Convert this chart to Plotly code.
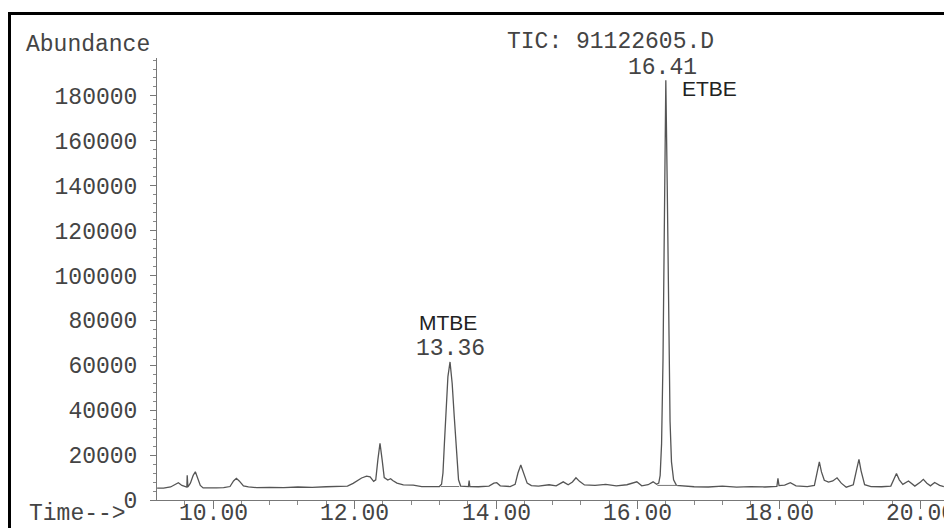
import plotly.graph_objects as go

# ---- data ----
time_min = [
    9.21, 9.30, 9.40, 9.46, 9.51, 9.56, 9.60, 9.63, 9.635, 9.645, 9.68, 9.72, 9.75, 9.78, 9.82, 9.86,
    9.95, 10.05, 10.15, 10.24, 10.29, 10.33, 10.37, 10.43, 10.50, 10.62, 10.80, 11.00, 11.20, 11.40,
    11.60, 11.80, 11.90, 11.98, 12.04, 12.10, 12.17, 12.22, 12.27, 12.30, 12.33, 12.36, 12.39, 12.42,
    12.47, 12.51, 12.54, 12.60, 12.69, 12.83, 12.95, 13.10, 13.20, 13.23, 13.25, 13.27, 13.29, 13.32,
    13.35, 13.38, 13.41, 13.44, 13.47, 13.50, 13.56, 13.61, 13.62, 13.63, 13.75, 13.90, 13.97, 14.01,
    14.06, 14.20, 14.27, 14.31, 14.35, 14.39, 14.44, 14.50, 14.60, 14.75, 14.85, 14.95, 15.02, 15.08,
    15.13, 15.18, 15.25, 15.40, 15.55, 15.70, 15.85, 15.99, 16.06, 16.15, 16.22, 16.27, 16.30, 16.32,
    16.34, 16.36, 16.38, 16.40, 16.42, 16.44, 16.46, 16.48, 16.51, 16.55, 16.65, 16.80, 17.00, 17.20,
    17.40, 17.60, 17.80, 17.97, 17.985, 18.00, 18.08, 18.16, 18.24, 18.40, 18.50, 18.54, 18.57, 18.60,
    18.64, 18.70, 18.76, 18.82, 18.88, 18.95, 19.05, 19.10, 19.13, 19.16, 19.21, 19.30, 19.45, 19.58,
    19.63, 19.66, 19.70, 19.75, 19.83, 19.92, 20.00, 20.04, 20.09, 20.14, 20.20, 20.27, 20.33,
]
abundance = [
    5300, 5300, 5800, 7000, 7700, 6500, 5900, 5700, 11000, 5800, 7500, 11000, 12600, 10000, 6500, 5400,
    5300, 5400, 5500, 6000, 8500, 9650, 8500, 6300, 5800, 5500, 5600, 5500, 5800, 5600,
    5900, 5900, 6200, 7400, 8800, 9800, 10600, 10300, 8300, 9000, 18000, 25300, 18000, 10000,
    8900, 9500, 8700, 7500, 6700, 6600, 6000, 6000, 6000, 7000, 12000, 25000, 40000, 55000,
    61500, 52000, 37000, 20000, 9000, 6200, 6000, 6000, 8700, 6000, 5900, 6200, 7500, 7700,
    6300, 6000, 7000, 12000, 15600, 12000, 7500, 6400, 6200, 6800, 6300, 8100, 6800, 8000,
    9900, 8300, 6700, 6500, 7000, 6300, 6800, 8100, 6300, 6800, 8100, 7000, 7500, 11000,
    25000, 62000, 130000, 187000, 140000, 75000, 35000, 17000, 9000, 6500, 6200, 5900, 5800, 6200,
    5700, 6000, 5800, 6100, 9600, 6400, 6600, 7700, 6300, 6000, 6500, 12000, 17000, 12500,
    8800, 8000, 8500, 9900, 7500, 5700, 6800, 14000, 18100, 13000, 6800, 6000, 5900, 6200,
    10000, 11800, 9000, 7000, 8500, 6200, 8000, 9200, 7500, 6300, 7800, 6500, 6000,
]
# integration baselines drawn under the two labelled peaks
base_time = [13.22, 13.48, None, 16.28, 16.57]
base_level = [6000, 6000, None, 6500, 6500]

y_ticks = [0, 20000, 40000, 60000, 80000, 100000, 120000, 140000, 160000, 180000]
x_ticks = [10, 12, 14, 16, 18, 20]
x_tick_labels = ["10.00", "12.00", "14.00", "16.00", "18.00", "20.00"]
peak_labels = {"MTBE": "13.36", "ETBE": "16.41"}
title_text = "TIC: 91122605.D"
x_range = [9.208, 20.332]

# ---- layout geometry (pixels) ----
W, H = 944, 528
L, R, T, B = 157, 944, 58, 500


def xp(px):
    return (px - L) / (R - L)


def yp(py):
    return (B - py) / (B - T)


MONO = "Liberation Mono"
SANS = "Liberation Sans"
TXT = "#444444"
MS = 23

fig = go.Figure()
fig.add_trace(go.Scatter(x=time_min, y=abundance, mode="lines",
                         line=dict(color="#555555", width=1.3), hoverinfo="skip"))
fig.add_trace(go.Scatter(x=base_time, y=base_level, mode="lines",
                         line=dict(color="#777777", width=1), hoverinfo="skip"))

mono = dict(family=MONO, size=MS, color=TXT)
annos = [
    dict(text="Abundance", x=xp(24), y=yp(45), xanchor="left", font=mono),
    dict(text="Time-->", x=xp(27), y=yp(514), xanchor="left", font=mono),
    dict(text=title_text, x=xp(610), y=yp(42), xanchor="center", font=mono),
    dict(text=peak_labels["ETBE"], x=xp(662), y=yp(68), xanchor="center", font=mono),
    dict(text="ETBE", x=xp(680), y=yp(88), xanchor="left", font=dict(family=SANS, size=21, color="#222222")),
    dict(text="MTBE", x=xp(448), y=yp(322), xanchor="center", font=dict(family=SANS, size=21, color="#222222")),
    dict(text=peak_labels["MTBE"], x=xp(450), y=yp(349), xanchor="center", font=mono),
]
for a in annos:
    a.update(xref="paper", yref="paper", yanchor="middle", showarrow=False)
# x tick labels, placed at the axis values
for tv, tl in zip(x_ticks, x_tick_labels):
    annos.append(dict(text=tl, x=tv, xref="x", y=yp(514), yref="paper", xanchor="center",
                      yanchor="middle", showarrow=False, font=mono))

fig.update_layout(
    width=W, height=H, autosize=False,
    margin=dict(l=L, r=W - R, t=T, b=H - B, pad=0, autoexpand=False),
    paper_bgcolor="white", plot_bgcolor="white",
    showlegend=False,
    annotations=annos,
    shapes=[dict(type="path", xref="paper", yref="paper",
                 path=f"M {xp(9.5)},{yp(560)} L {xp(9.5)},{yp(13.5)} L {xp(990)},{yp(13.5)}",
                 line=dict(color="black", width=3))],
    xaxis=dict(
        range=x_range, tickvals=x_ticks, automargin=False, showticklabels=False,
        showgrid=False, zeroline=False, showline=True, linecolor="#777777", linewidth=1,
        ticks="outside", ticklen=8, tickcolor="#777777", tickwidth=1,
        minor=dict(dtick=0.4, tick0=10, ticks="outside", ticklen=4, tickcolor="#888888", showgrid=False),
    ),
    yaxis=dict(
        range=[0, 196900], tickvals=y_ticks, tickformat="d", automargin=False,
        showgrid=False, zeroline=False, showline=True, linecolor="#777777", linewidth=1,
        ticks="outside", ticklen=6, tickcolor="#777777", tickwidth=1,
        tickfont=mono, ticklabelstandoff=8,
        minor=dict(dtick=4000, tick0=0, ticks="outside", ticklen=3, tickcolor="#888888", showgrid=False),
    ),
)

fig.write_html("out.html", config={"displayModeBar": False},
               post_script="document.body.style.margin='0';")
